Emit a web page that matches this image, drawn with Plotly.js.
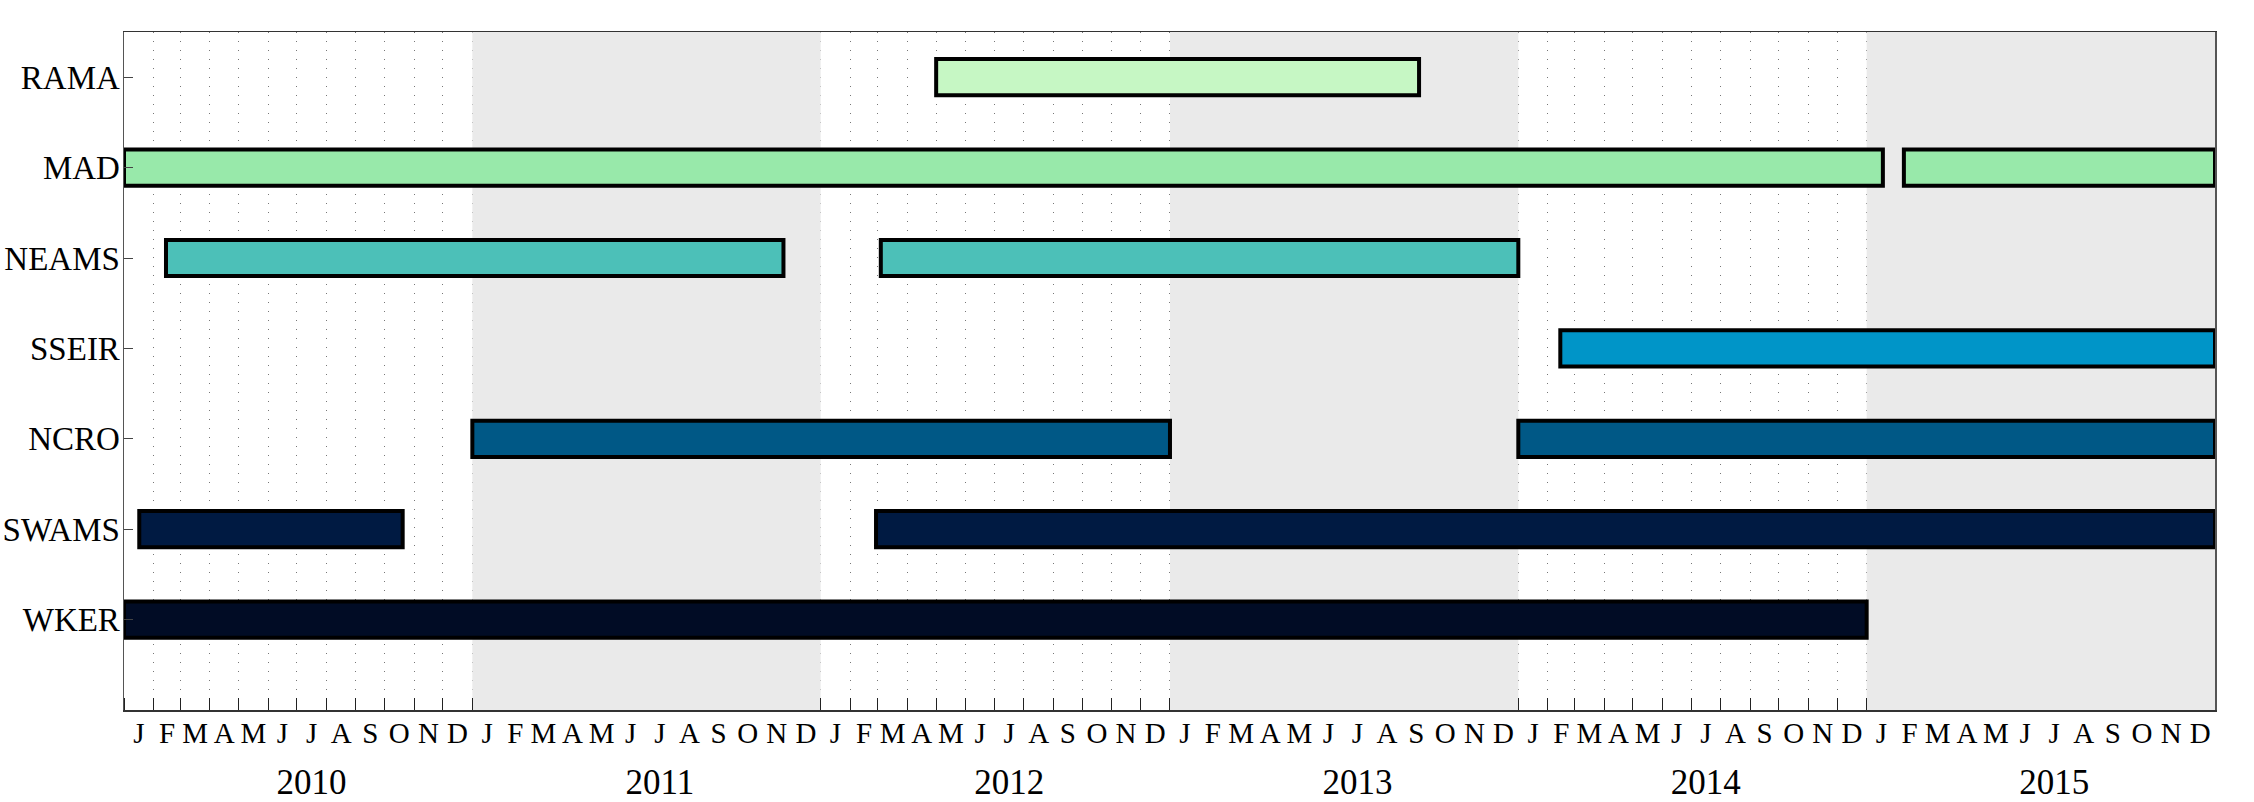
<!DOCTYPE html>
<html>
<head>
<meta charset="utf-8">
<script src="https://cdn.plot.ly/plotly-3.0.1.min.js"></script>
<style>
  html, body { margin: 0; padding: 0; background: #ffffff; }
  #chart { width: 2254px; height: 802px; }
</style>
</head>
<body>
<div id="chart"></div>
<script>
// ---------------- data ----------------
// projects, top to bottom as shown
const projects = ['RAMA', 'MAD', 'NEAMS', 'SSEIR', 'NCRO', 'SWAMS', 'WKER'];

// deployment segments (one entry per bar)
const segProject = ['RAMA', 'MAD', 'MAD', 'NEAMS', 'NEAMS', 'SSEIR', 'NCRO', 'NCRO', 'SWAMS', 'SWAMS', 'WKER'];
const segStart = ['2012-05-01', '2010-01-01', '2015-02-09', '2010-02-14', '2012-03-04', '2014-02-14',
                  '2011-01-01', '2014-01-01', '2010-01-17', '2012-02-28', '2010-01-01'];
const segEnd   = ['2013-09-19', '2015-01-18', '2016-01-01', '2011-11-23', '2014-01-01', '2016-01-01',
                  '2013-01-01', '2016-01-01', '2010-10-20', '2016-01-01', '2015-01-01'];

// axis labels
const years = [2010, 2011, 2012, 2013, 2014, 2015];
const monthLetters = ['J', 'F', 'M', 'A', 'M', 'J', 'J', 'A', 'S', 'O', 'N', 'D'];

// ---------------- styles ----------------
const projectColors = {
  RAMA: '#C6F7C4',
  MAD: '#98E9AA',
  NEAMS: '#4CC0B8',
  SSEIR: '#0095C8',
  NCRO: '#005886',
  SWAMS: '#001A42',
  WKER: '#010C25'
};
const FONT = 'Liberation Serif, Times New Roman, serif';

// ---------------- helpers ----------------
function iso(ms) { return new Date(ms).toISOString().slice(0, 19).replace('T', ' '); }

const durations = segStart.map((s, i) => Date.parse(segEnd[i]) - Date.parse(s));
const barColors = segProject.map(p => projectColors[p]);

// month labels at mid-month; month boundary ticks/grid only in the white (unshaded) years
const monthMidVals = [], monthMidText = [], monthStartVals = [];
years.forEach((y, yi) => {
  monthLetters.forEach((m, k) => {
    const a = Date.UTC(y, k, 1), b = Date.UTC(y, k + 1, 1);
    monthMidVals.push(iso((a + b) / 2));
    monthMidText.push(m);
    if (yi % 2 === 0) monthStartVals.push(iso(a));
  });
  if (yi % 2 === 0) monthStartVals.push(iso(Date.UTC(y + 1, 0, 1)));
});

const yearVals = years.map(y => iso((Date.UTC(y, 6, 1) + Date.UTC(y, 7, 1)) / 2));
const yearText = years.map(String);

const xRange = [years[0] + '-01-01', (years[years.length - 1] + 1) + '-01-01'];
const yRange = [-1, projects.length - 0.5];

// alternate years shaded grey (drawn between the grid and the bars)
const shapes = years.filter((y, i) => i % 2 === 1).map(y => ({
  type: 'rect', xref: 'x', yref: 'y',
  x0: y + '-01-01', x1: (y + 1) + '-01-01', y0: yRange[0], y1: yRange[1],
  fillcolor: '#EAEAEA', line: { width: 0 }, layer: 'between'
}));

// ---------------- traces ----------------
const traces = [
  {
    type: 'bar',
    orientation: 'h',
    y: segProject,
    base: segStart,
    x: durations,
    width: 0.4,
    marker: { color: barColors, line: { color: '#000000', width: 4 } },
    hoverinfo: 'skip',
    showlegend: false
  },
  {
    type: 'scatter', mode: 'markers', x: [], y: [], xaxis: 'x2', yaxis: 'y',
    showlegend: false, hoverinfo: 'skip'
  }
];

const layout = {
  width: 2254,
  height: 802,
  margin: { l: 124, r: 39, t: 32, b: 92 },
  paper_bgcolor: '#ffffff',
  plot_bgcolor: '#ffffff',
  showlegend: false,
  barmode: 'overlay',
  font: { family: FONT, color: '#000000' },
  xaxis: {
    type: 'date',
    range: xRange,
    showgrid: false,
    zeroline: false,
    tickmode: 'array',
    tickvals: monthMidVals,
    ticktext: monthMidText,
    ticks: '',
    tickfont: { family: FONT, size: 29, color: '#000000' },
    ticklabelstandoff: -3,
    showline: true,
    linecolor: '#333333',
    linewidth: 1.5,
    mirror: true,
    minor: {
      tickmode: 'array',
      tickvals: monthStartVals,
      ticks: 'inside',
      ticklen: 12,
      tickwidth: 1,
      tickcolor: '#222222',
      showgrid: true,
      gridcolor: '#777777',
      gridwidth: 1,
      griddash: '1px,8px'
    }
  },
  xaxis2: {
    type: 'date',
    overlaying: 'x',
    anchor: 'y',
    side: 'bottom',
    range: xRange,
    showgrid: false,
    zeroline: false,
    showline: false,
    tickmode: 'array',
    tickvals: yearVals,
    ticktext: yearText,
    ticks: '',
    tickfont: { family: FONT, size: 35, color: '#000000' },
    ticklabelstandoff: 48
  },
  yaxis: {
    type: 'category',
    categoryorder: 'array',
    categoryarray: projects.slice().reverse(),
    range: yRange,
    showgrid: false,
    zeroline: false,
    ticks: 'inside',
    ticklen: 9,
    tickcolor: '#444444',
    tickfont: { family: FONT, size: 33, color: '#000000' },
    showline: true,
    linecolor: '#555555',
    linewidth: 1.5,
    mirror: true,
    ticklabelstandoff: -4
  },
  shapes: shapes
};

Plotly.newPlot('chart', traces, layout, { displayModeBar: false, staticPlot: true });
</script>
</body>
</html>
